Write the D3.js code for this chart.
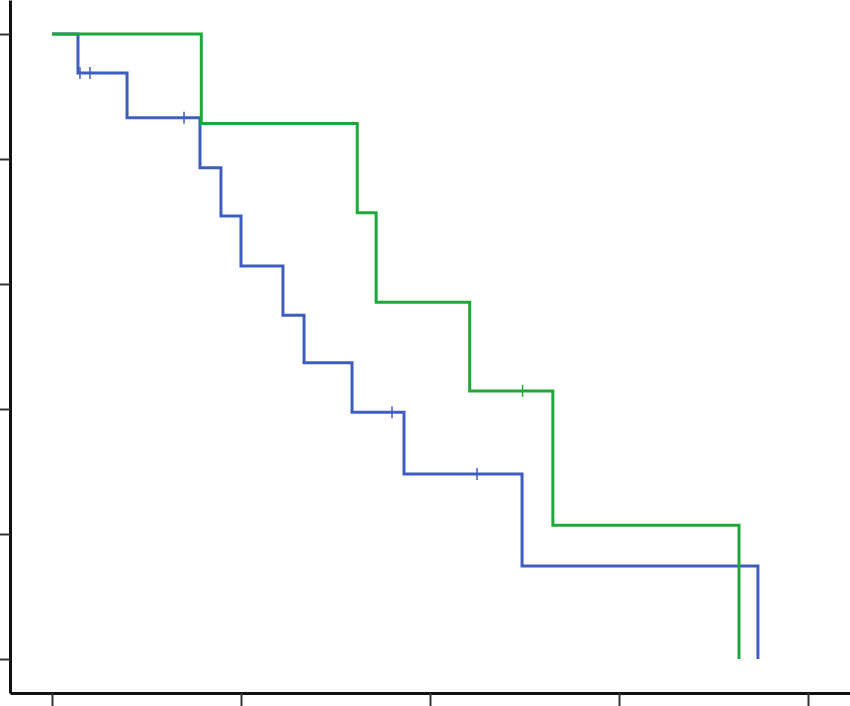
<!DOCTYPE html>
<html><head><meta charset="utf-8">
<script src="https://cdn.jsdelivr.net/npm/d3@7"></script>
<style>body{margin:0;background:#fff}svg{display:block}</style>
</head><body>
<script>
// Group A (green) step curve: event times and survival after each step
const greenTimes = [0, 15.8, 32.3, 34.3, 44.2, 53.0, 72.7];
const greenSurv  = [1.0, 0.857, 0.714, 0.571, 0.429, 0.214, 0.0];
const greenCensor = [49.8];
// Group B (blue)
const blueTimes = [0, 2.75, 7.94, 15.66, 17.88, 20.0, 24.44, 26.67, 31.75, 37.25, 49.74, 74.7];
const blueSurv  = [1.0, 0.9375, 0.866, 0.786, 0.709, 0.629, 0.550, 0.474, 0.395, 0.296, 0.149, 0.0];
const blueCensor = [2.96, 4.02, 13.97, 35.98, 44.97];
const xTicks = [0, 20, 40, 60, 80];
const yTicks = [0, 0.2, 0.4, 0.6, 0.8, 1.0];

const W = 850, H = 706;
const svg = d3.select("body").append("svg").attr("width", W).attr("height", H);

const x = d3.scaleLinear().domain([-42/9.45, 798/9.45]).range([10, 850]);
const y = d3.scaleLinear().domain([-34/625, 1 + 34/625]).range([693, 0]);

function stepPath(times, surv) {
  const pts = [];
  for (let i = 0; i < times.length; i++) {
    if (i > 0) pts.push([times[i], surv[i-1]]);
    pts.push([times[i], surv[i]]);
  }
  return pts;
}
function survAt(times, surv, t) {
  let s = surv[0];
  for (let i = 0; i < times.length; i++) if (times[i] <= t) s = surv[i];
  return s;
}
const line = d3.line().x(d => x(d[0])).y(d => y(d[1]));

const series = [
  {times: blueTimes, surv: blueSurv, cens: blueCensor, color: "#3f5cbf"},
  {times: greenTimes, surv: greenSurv, cens: greenCensor, color: "#1fa83a"}
];
// draw green first then blue? In reference green overlays blue at top start
series.forEach(s => {
  svg.append("path").attr("d", line(stepPath(s.times, s.surv)))
    .attr("fill", "none").attr("stroke", s.color).attr("stroke-width", 3)
    .attr("stroke-linejoin", "miter");
  svg.selectAll(null).data(s.cens).enter().append("line")
    .attr("x1", d => x(d)).attr("x2", d => x(d))
    .attr("y1", d => y(survAt(s.times, s.surv, d)) - 6)
    .attr("y2", d => y(survAt(s.times, s.surv, d)) + 6)
    .attr("stroke", s.color).attr("stroke-width", 1.5);
});

const gy = svg.append("g").attr("transform", "translate(10,0)")
  .call(d3.axisLeft(y).tickValues(yTicks).tickFormat("").tickSize(10).tickSizeOuter(0));
const gx = svg.append("g").attr("transform", "translate(0,693)")
  .call(d3.axisBottom(x).tickValues(xTicks).tickFormat("").tickSize(14).tickSizeOuter(0));
[gx, gy].forEach(g => {
  g.select(".domain").attr("stroke", "#111").attr("stroke-width", 3);
  g.selectAll(".tick line").attr("stroke", "#333").attr("stroke-width", 2);
});
</script>
</body></html>
